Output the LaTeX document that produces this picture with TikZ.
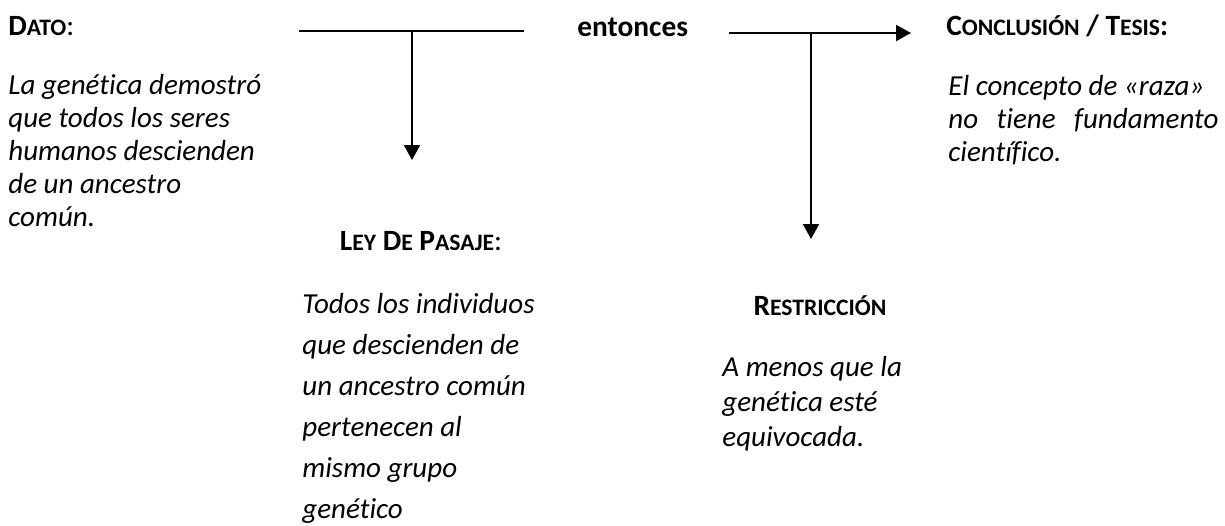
\documentclass[tikz,border=0pt]{standalone}
\usepackage{fontspec}
\setmainfont{Carlito}[Ligatures=NoCommon, RawFeature={-liga;-calt}]
\usetikzlibrary{arrows.meta,positioning}
\newcommand{\fsc}[2]{#1{\fontsize{11.8}{13}\selectfont #2}}
\tikzset{
    head/.style = {font=\fontsize{14.7}{16.5}\selectfont\bfseries, inner sep=0pt},
    body/.style = {font=\fontsize{14.5}{16.5}\selectfont\itshape, align=left, inner sep=0pt},
    bar/.style = {line width=0.75pt},
    link/.style = {line width=1pt, -{Triangle[length=7.5pt,width=8pt]}},
}

\begin{document}
\begin{tikzpicture}[x=0.5pt, y=-0.5pt]
		\useasboundingbox (0,0) rectangle (1225,525);
		% Dato
		\node [head, anchor=base west] (dato) at (8,35) {\fsc{D}{ATO}\textmd{:}};
		\node [body, anchor=base west] (datoTxt) at (8,226) {La genética demostró\\que todos los seres\\humanos descienden\\de un ancestro\\común.};
		
		% Ley de pasaje
		\node [head, anchor=base] (ley) at (421,250) {\fsc{L}{EY} \fsc{D}{E} \fsc{P}{ASAJE}\textmd{:}};
		\node [body, font=\fontsize{14.5}{20.5}\selectfont\itshape, anchor=base west] (leyTxt) at (302,518) {Todos los individuos\\que descienden de\\un ancestro común\\pertenecen al\\mismo grupo\\genético};
		
		\node [head, anchor=base west] (entonces) at (577,36) {entonces};
		
		% Restriccion
		\node [head, anchor=base] (restr) at (820,315) {\fsc{R}{ESTRICCIÓN}};
		\node [body, font=\fontsize{14.5}{17.5}\selectfont\itshape, anchor=base west] (restrTxt) at (722,446) {A menos que la\\genética esté\\equivocada.};
		
		% Conclusion
		\node [head, anchor=base west] (concl) at (946,35) {\fsc{C}{ONCLUSIÓN} / \fsc{T}{ESIS}:};
		\node [body, anchor=base west] (conclTxt) at (948,161) {El concepto de «raza»\\\makebox[135pt][s]{no tiene fundamento}\\científico.};
		
		%% connecting lines
		\coordinate (datoL) at (299,31);
		\coordinate (datoR) at (524,31);
		\coordinate (leyTop) at (412,31);
		\coordinate (leyEnd) at (412,160);
		\coordinate (thenL) at (729,33);
		\coordinate (thenR) at (911,33);
		\coordinate (restrTop) at (811,33);
		\coordinate (restrEnd) at (811,239);
		
		\draw [bar] (datoL) -- (datoR);
		\draw [link] (leyTop) -- (leyEnd);
		\draw [link] (thenL) -- (thenR);
		\draw [link] (restrTop) -- (restrEnd);

	\end{tikzpicture}
\end{document}
